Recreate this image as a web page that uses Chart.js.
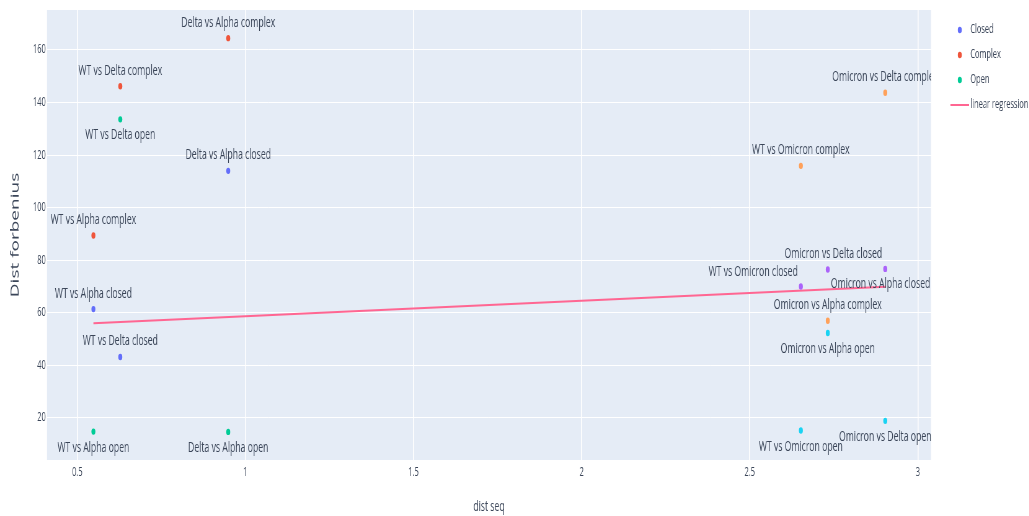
<!DOCTYPE html>
<html>
<head>
<meta charset="utf-8">
<script src="https://cdn.jsdelivr.net/npm/chart.js@4.4.1/dist/chart.umd.min.js"></script>
<style>
html, body { margin: 0; padding: 0; background: #fff; overflow: hidden; }
/* the reference is squeezed sideways, so draw wide and squeeze the same way */
#wrap { width: 1660px; height: 516px; transform: scaleX(0.62); transform-origin: 0 0; }
</style>
</head>
<body>
<div id="wrap"><canvas id="chart" width="1660" height="516"></canvas></div>
<script>
// values (x = dist seq, y = dist forbenius)
const closedX = [0.548, 0.628, 0.949]
const closedY = [61.4, 43.2, 114.0]
const closedLabels = ['WT vs Alpha closed', 'WT vs Delta closed', 'Delta vs Alpha closed']

const complexX = [0.548, 0.628, 0.949]
const complexY = [89.4, 146.2, 164.5]
const complexLabels = ['WT vs Alpha complex', 'WT vs Delta complex', 'Delta vs Alpha complex']

const openX = [0.548, 0.628, 0.949]
const openY = [14.8, 133.6, 14.7]
const openLabels = ['WT vs Alpha open', 'WT vs Delta open', 'Delta vs Alpha open']

const omiClosedX = [2.652, 2.732, 2.903]
const omiClosedY = [70.0, 76.5, 76.7]
const omiClosedLabels = ['WT vs Omicron closed', 'Omicron vs Alpha closed', 'Omicron vs Delta closed']

const omiComplexX = [2.652, 2.732, 2.903]
const omiComplexY = [115.9, 57.0, 143.7]
const omiComplexLabels = ['WT vs Omicron complex', 'Omicron vs Alpha complex', 'Omicron vs Delta complex']

const omiOpenX = [2.652, 2.732, 2.903]
const omiOpenY = [15.2, 52.3, 18.9]
const omiOpenLabels = ['WT vs Omicron open', 'Omicron vs Alpha open', 'Omicron vs Delta open']

const regX = [0.548, 2.903]
const regY = [56.0, 69.9]

const xTicks = [0.5, 1, 1.5, 2, 2.5, 3]
const yTicks = [20, 40, 60, 80, 100, 120, 140, 160]

const textColor = '#3a4558'

const pts = (xs, ys) => xs.map((x, i) => ({x: x, y: ys[i]}))

function markerSet(label, xs, ys, labels, color, labelPos) {
    return {
        label: label,
        data: pts(xs, ys),
        labels: labels,
        labelPos: labelPos,
        backgroundColor: color,
        borderWidth: 0,
        pointRadius: 3.2,
        pointHoverRadius: 3.2,
        showLine: false
    }
}

const plotBg = {
    id: 'plotBg',
    beforeDraw(chart) {
        const {ctx, chartArea: a} = chart
        ctx.save()
        ctx.fillStyle = '#E5ECF6'
        ctx.fillRect(a.left, a.top, a.right - a.left, a.bottom - a.top)
        ctx.restore()
    }
}

// text next to each marker, like plotly's textposition
const pointLabels = {
    id: 'pointLabels',
    afterDatasetsDraw(chart) {
        const {ctx, chartArea: a} = chart
        ctx.save()
        ctx.beginPath()
        ctx.rect(a.left, a.top, a.right - a.left, a.bottom - a.top)
        ctx.clip()
        ctx.font = '14px "Open Sans"'
        ctx.fillStyle = textColor
        ctx.textBaseline = 'alphabetic'
        chart.data.datasets.forEach((ds, i) => {
            if (!ds.labels) return
            chart.getDatasetMeta(i).data.forEach((el, j) => {
                const pos = ds.labelPos[j]
                let x = el.x, y = el.y
                if (pos === 'top') { ctx.textAlign = 'center'; y -= 11.5 }
                else if (pos === 'bottom') { ctx.textAlign = 'center'; y += 20 }
                else if (pos === 'topleft') { ctx.textAlign = 'right'; x -= 5; y -= 11 }
                else if (pos === 'bottomright') { ctx.textAlign = 'left'; x += 5; y += 19 }
                ctx.fillText(ds.labels[j], x, y)
            })
        })
        ctx.restore()
    }
}

const legendItems = [
    ['Closed', '#636efa', 'dot'],
    ['Complex', '#EF553B', 'dot'],
    ['Open', '#00cc96', 'dot'],
    ['linear regression', '#FF6692', 'line']
]

const sideLegend = {
    id: 'sideLegend',
    afterDraw(chart) {
        const ctx = chart.ctx
        ctx.save()
        ctx.font = '12px "Open Sans"'
        ctx.textAlign = 'left'
        ctx.textBaseline = 'middle'
        legendItems.forEach((it, i) => {
            const y = 30 + i * 25
            if (it[2] === 'dot') {
                ctx.fillStyle = it[1]
                ctx.beginPath()
                ctx.arc(1548, y, 3.2, 0, Math.PI * 2)
                ctx.fill()
            } else {
                ctx.strokeStyle = it[1]
                ctx.lineWidth = 2
                ctx.beginPath()
                ctx.moveTo(1533, y)
                ctx.lineTo(1563, y)
                ctx.stroke()
            }
            ctx.fillStyle = textColor
            ctx.fillText(it[0], 1565, y)
        })
        ctx.restore()
    }
}

Chart.defaults.font.family = '"Open Sans"'

new Chart(document.getElementById('chart'), {
    type: 'scatter',
    data: {
        datasets: [
            markerSet('Closed', closedX, closedY, closedLabels, '#636efa', ['top', 'top', 'top']),
            markerSet('Complex', complexX, complexY, complexLabels, '#EF553B', ['top', 'top', 'top']),
            markerSet('Open', openX, openY, openLabels, '#00cc96', ['bottom', 'bottom', 'bottom']),
            markerSet('Omicron closed', omiClosedX, omiClosedY, omiClosedLabels, '#ab63fa', ['topleft', 'bottomright', 'topleft']),
            markerSet('Omicron complex', omiComplexX, omiComplexY, omiComplexLabels, '#FFA15A', ['top', 'top', 'top']),
            markerSet('Omicron open', omiOpenX, omiOpenY, omiOpenLabels, '#19d3f3', ['bottom', 'bottom', 'bottom']),
            {
                label: 'linear regression',
                data: pts(regX, regY),
                showLine: true,
                borderColor: '#FF6692',
                borderWidth: 2,
                pointRadius: 0,
                fill: false
            }
        ]
    },
    options: {
        responsive: false,
        animation: false,
        events: [],
        layout: {padding: {top: 10, right: 158.4, bottom: 0, left: 0}},
        plugins: {
            legend: {display: false},
            tooltip: {enabled: false}
        },
        scales: {
            x: {
                type: 'linear',
                min: 0.41,
                max: 3.039,
                afterBuildTicks: s => { s.ticks = xTicks.map(v => ({value: v})) },
                afterFit: s => { s.height = 56 },
                grid: {color: '#ffffff', lineWidth: 1.6, drawTicks: false},
                border: {display: false},
                ticks: {padding: 5, color: textColor, font: {size: 12}, maxRotation: 0, autoSkip: false, callback: v => String(v)},
                title: {display: true, text: 'dist seq', color: textColor, font: {size: 14}, padding: {top: 0, bottom: 1}}
            },
            y: {
                type: 'linear',
                min: 4,
                max: 175.2,
                afterBuildTicks: s => { s.ticks = yTicks.map(v => ({value: v})) },
                afterFit: s => { s.width = 75.8 },
                grid: {color: '#ffffff', lineWidth: 1, drawTicks: false},
                border: {display: false},
                ticks: {padding: 2, color: textColor, font: {size: 12}, autoSkip: false, callback: v => String(v)},
                title: {display: true, text: 'Dist forbenius', color: textColor, font: {size: 19}, padding: {top: 13.6, bottom: 0}}
            }
        }
    },
    plugins: [plotBg, pointLabels, sideLegend]
})
</script>
</body>
</html>
